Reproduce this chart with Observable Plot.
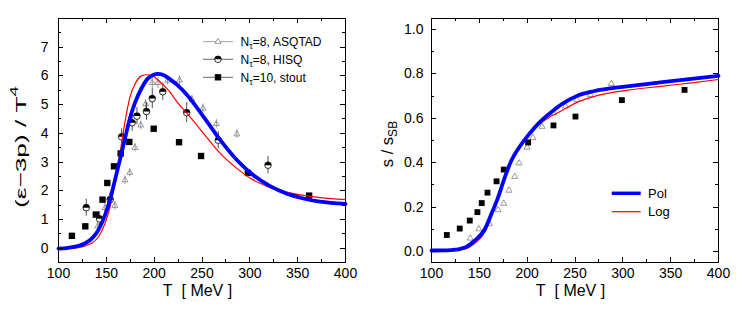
<!DOCTYPE html>
<html><head><meta charset="utf-8">
<script src="https://cdn.jsdelivr.net/npm/d3@7"></script>
<script src="https://cdn.jsdelivr.net/npm/@observablehq/plot@0.6"></script>
<style>
body{margin:0;background:#fff}
#wrap{display:flex;width:747px;height:312px;background:#fff}
</style></head><body><div id="wrap"></div>
<script>
// ---------- Left panel: (e-3p)/T^4 ----------
const stoutT = [114, 128, 139, 146, 151, 158, 165, 174, 199.5, 226, 249, 298, 362];
const stoutE = [0.43, 0.76, 1.17, 1.69, 2.27, 2.85, 3.3, 3.7, 4.16, 3.69, 3.21, 2.62, 1.83];

const hisqT = [129, 143, 154, 166, 177, 182, 192, 198, 209, 234, 267, 319];
const hisqE = [1.41, 1.02, 1.69, 3.88, 4.37, 4.6, 4.76, 5.21, 5.45, 4.72, 3.76, 2.89];
const hisqErr = [0.3, 0.25, 0.25, 0.28, 0.3, 0.3, 0.3, 0.35, 0.3, 0.35, 0.3, 0.3];

const asqT = [141, 148.5, 159, 169.5, 174.5, 180, 186, 191, 198, 204, 214, 226.5, 239.5, 251, 265, 286.5];
const asqE = [0.76, 1.4, 1.48, 2.37, 2.63, 3.5, 4.28, 5.02, 5.76, 5.76, 5.84, 5.85, 5.18, 4.87, 4.33, 3.97];
const asqErr = [0.15, 0.2, 0.15, 0.15, 0.15, 0.15, 0.15, 0.15, 0.2, 0.2, 0.15, 0.15, 0.15, 0.15, 0.15, 0.15];

const polT = [100, 110, 120, 128, 135, 141.5, 148.5, 153.7, 159, 164, 169.5, 174.6, 180, 186.8, 193.7, 204, 209, 216.7, 225, 234.2, 251.5, 269, 286.4, 303.8, 321.2, 338.7, 356, 373.5, 400];
const polE = [-0.02, 0.01, 0.07, 0.17, 0.34, 0.62, 1.14, 1.67, 2.37, 3.05, 3.82, 4.52, 5.07, 5.57, 5.92, 6.07, 6.04, 5.88, 5.66, 5.34, 4.58, 3.77, 3.07, 2.54, 2.16, 1.9, 1.73, 1.62, 1.54];

const logT = [100, 110, 120, 128, 135, 141.5, 148.5, 154, 159, 164, 169.5, 174.6, 180, 186.8, 192, 197, 204, 214.6, 225, 234.2, 251.5, 269, 286.4, 303.8, 321.2, 338.7, 356, 373.5, 400];
const logE = [-0.02, -0.01, 0.02, 0.08, 0.18, 0.38, 0.85, 1.45, 2.3, 3.25, 4.4, 5.25, 5.72, 6.0, 6.04, 6.02, 5.86, 5.51, 5.05, 4.7, 4.0, 3.3, 2.78, 2.37, 2.11, 1.94, 1.84, 1.76, 1.69];

// ---------- Right panel: s / s_SB ----------
const sStoutT = [116, 129.5, 140, 148, 152.5, 158.5, 168, 175.5, 201, 227.5, 250.5, 299, 364.5];
const sStoutV = [0.074, 0.103, 0.139, 0.177, 0.218, 0.265, 0.316, 0.369, 0.491, 0.568, 0.608, 0.682, 0.728];

const sAsqT = [140.5, 149.5, 160.5, 169.5, 175.5, 181, 187, 191.5, 200, 206, 215.5, 227.5, 240, 252, 266, 288];
const sAsqV = [0.059, 0.101, 0.124, 0.187, 0.216, 0.275, 0.337, 0.398, 0.469, 0.512, 0.563, 0.624, 0.654, 0.684, 0.707, 0.756];

const sPolT = [100, 120, 135, 145, 155.7, 162.7, 169.6, 176.6, 183.5, 190.5, 201, 211.4, 225.3, 237, 252, 269.5, 304, 339, 374, 400];
const sPolV = [0.004, 0.006, 0.018, 0.048, 0.1, 0.17, 0.244, 0.334, 0.41, 0.462, 0.523, 0.575, 0.628, 0.666, 0.701, 0.722, 0.744, 0.762, 0.779, 0.791];

const sLogT = [100, 120, 135, 145, 155.7, 162.7, 169.6, 176.6, 183.5, 190.5, 201, 211.4, 225.3, 235, 252, 269.5, 304, 339, 374, 400];
const sLogV = [0.0, 0.002, 0.011, 0.036, 0.086, 0.16, 0.247, 0.342, 0.417, 0.468, 0.525, 0.568, 0.61, 0.632, 0.672, 0.698, 0.726, 0.744, 0.761, 0.775];

// ---------- tick labels / legend text ----------
const xTicks = [100, 150, 200, 250, 300, 350, 400];
const xMinor = [125, 175, 225, 275, 325, 375];
const yTicksL = [0, 1, 2, 3, 4, 5, 6, 7];
const yMinorL = [-0.5, 0.5, 1.5, 2.5, 3.5, 4.5, 5.5, 6.5, 7.5];
const yTicksR = [0, 0.2, 0.4, 0.6, 0.8, 1.0];
const yMinorR = [0.1, 0.3, 0.5, 0.7, 0.9];
const legendL = [["N", "τ", "=8, ASQTAD"], ["N", "τ", "=8, HISQ"], ["N", "τ", "=10, stout"]];
const legendR = ["Pol", "Log"];
const xLabel = "T\u00a0\u00a0[ MeV ]";

const FONT = "Liberation Sans, Arial, Helvetica, sans-serif";
const H = 312, MT = 18, MB = 50;
const BLUE = "#0000ff", RED = "#ff0000", GRAY = "#808080";

const halfTop = {draw(ctx, size) { const r = Math.sqrt(size / Math.PI); ctx.moveTo(r, 0); ctx.arc(0, 0, r, 0, Math.PI, true); ctx.closePath(); }};
const rows = (T, V, E) => T.map((t, i) => ({T: t, v: V[i], e: E ? E[i] : 0}));

function decorate(plot, o) {
  const svg = d3.select(plot);
  const sx = plot.scale("x"), sy = plot.scale("y");
  const L = o.ml, R = o.width - o.mr, Tp = MT, B = H - MB;
  const g = svg.append("g").attr("stroke", "#000").attr("stroke-width", 1).attr("shape-rendering", "crispEdges");
  for (const [vals, len] of [[xTicks, 5], [xMinor, 3]]) for (const v of vals) {
    const x = Math.round(sx.apply(v)) + 0.5;
    g.append("line").attr("x1", x).attr("x2", x).attr("y1", B).attr("y2", B - len);
    g.append("line").attr("x1", x).attr("x2", x).attr("y1", Tp).attr("y2", Tp + len);
  }
  for (const [vals, len] of [[o.yMajor, 5], [o.yMinor, 3]]) for (const v of vals) {
    const y = Math.round(sy.apply(v)) + 0.5;
    g.append("line").attr("x1", L).attr("x2", L + len).attr("y1", y).attr("y2", y);
    g.append("line").attr("x1", R).attr("x2", R - len).attr("y1", y).attr("y2", y);
  }
  svg.append("text").attr("x", (L + R) / 2 - 4).attr("y", 296).attr("text-anchor", "middle")
    .attr("font-size", 16).attr("font-family", FONT).attr("fill", "#000").text(xLabel);
  return {svg, sx, sy};
}

// ---------- LEFT ----------
const WL = 373, MLL = 58, MRL = 28;
const left = Plot.plot({
  width: WL, height: H, marginLeft: MLL, marginRight: MRL, marginTop: MT, marginBottom: MB,
  style: {fontFamily: FONT, fontSize: "14px", background: "white", color: "#000"},
  x: {domain: [100, 400]},
  y: {domain: [-0.5, 8]},
  marks: [
    Plot.frame({stroke: "#000", strokeWidth: 1}),
    Plot.axisX({ticks: xTicks, tickSize: 0, tickPadding: 6, label: null, tickFormat: d => String(d)}),
    Plot.axisY({ticks: yTicksL, tickSize: 0, tickPadding: 10, label: null, tickFormat: d => String(d)}),
    Plot.ruleX(rows(asqT, asqE, asqErr), {x: "T", y1: d => d.v - d.e, y2: d => d.v + d.e, stroke: GRAY, strokeWidth: 0.8}),
    Plot.dot(rows(asqT, asqE), {x: "T", y: "v", symbol: "triangle", r: 2.2, stroke: GRAY, fill: "none", strokeWidth: 0.8}),
    Plot.ruleX(rows(hisqT, hisqE, hisqErr), {x: "T", y1: d => d.v - d.e, y2: d => d.v + d.e, stroke: "#222", strokeWidth: 0.8}),
    Plot.dot(rows(hisqT, hisqE), {x: "T", y: "v", r: 3.3, fill: "white", stroke: "#000", strokeWidth: 0.8}),
    Plot.dot(rows(hisqT, hisqE), {x: "T", y: "v", r: 3.3, symbol: halfTop, fill: "#000", stroke: "none"}),
    Plot.dot(rows(stoutT, stoutE), {x: "T", y: "v", symbol: "square", r: 3.6, fill: "#000", stroke: "none"}),
    Plot.line(rows(logT, logE), {x: "T", y: "v", stroke: RED, strokeWidth: 1.2, curve: "monotone-x"}),
    Plot.line(rows(polT, polE), {x: "T", y: "v", stroke: BLUE, strokeWidth: 3.8, curve: "monotone-x"})
  ]
});
{
  const {svg} = decorate(left, {width: WL, ml: MLL, mr: MRL, yMajor: yTicksL, yMinor: yMinorL});
  const yl = svg.append("text").attr("transform", "translate(26,147) rotate(-90)").attr("text-anchor", "middle")
    .attr("font-size", 15.5).attr("font-family", FONT).attr("fill", "#000")
    .attr("textLength", 122).attr("lengthAdjust", "spacingAndGlyphs");
  yl.append("tspan").text("(ε−3p) / T");
  yl.append("tspan").attr("font-size", 11).attr("dy", -8).text("4");
  const lg = svg.append("g").attr("font-family", FONT).attr("font-size", 12).attr("fill", "#000").attr("text-anchor", "start");
  const ys = [41.7, 59.3, 77.3];
  const syms = [d3.symbol(d3.symbolTriangle, Math.PI * 2.2 * 2.2)(), d3.symbol(d3.symbolCircle, Math.PI * 3.3 * 3.3)(), d3.symbol(d3.symbolSquare, Math.PI * 3.6 * 3.6)()];
  legendL.forEach((parts, i) => {
    const y = ys[i];
    lg.append("line").attr("x1", 203).attr("x2", 233).attr("y1", y).attr("y2", y).attr("stroke", i === 0 ? "#999" : "#555").attr("stroke-width", 0.9);
    if (i === 0) lg.append("path").attr("d", syms[0]).attr("transform", `translate(218,${y})`).attr("fill", "white").attr("stroke", GRAY).attr("stroke-width", 0.8);
    if (i === 1) {
      lg.append("path").attr("d", syms[1]).attr("transform", `translate(218,${y})`).attr("fill", "white").attr("stroke", "#000").attr("stroke-width", 0.8);
      const p = d3.path(); halfTop.draw(p, Math.PI * 3.3 * 3.3);
      lg.append("path").attr("d", p.toString()).attr("transform", `translate(218,${y})`).attr("fill", "#000");
    }
    if (i === 2) lg.append("path").attr("d", syms[2]).attr("transform", `translate(218,${y})`).attr("fill", "#000");
    const t = lg.append("text").attr("x", 240.5).attr("y", y + 4.3).attr("text-anchor", "start");
    t.append("tspan").text(parts[0]);
    t.append("tspan").attr("font-size", 9).attr("dy", 3).text(parts[1]);
    t.append("tspan").attr("dy", -3).text(parts[2]);
  });
}

// ---------- RIGHT ----------
const WR = 374, MLR = 58, MRR = 29;
const right = Plot.plot({
  width: WR, height: H, marginLeft: MLR, marginRight: MRR, marginTop: MT, marginBottom: MB,
  style: {fontFamily: FONT, fontSize: "14px", background: "white", color: "#000"},
  x: {domain: [100, 400]},
  y: {domain: [-0.05, 1.05]},
  marks: [
    Plot.frame({stroke: "#000", strokeWidth: 1}),
    Plot.axisX({ticks: xTicks, tickSize: 0, tickPadding: 6, label: null, tickFormat: d => String(d)}),
    Plot.axisY({ticks: yTicksR, tickSize: 0, tickPadding: 8, label: null, tickFormat: d3.format(".1f")}),
    Plot.dot(rows(sAsqT, sAsqV), {x: "T", y: "v", symbol: "triangle", r: 2.3, stroke: GRAY, fill: "none", strokeWidth: 0.8}),
    Plot.dot(rows(sStoutT, sStoutV), {x: "T", y: "v", symbol: "square", r: 3.3, fill: "#000", stroke: "none"}),
    Plot.line(rows(sLogT, sLogV), {x: "T", y: "v", stroke: RED, strokeWidth: 1.2, curve: "monotone-x"}),
    Plot.line(rows(sPolT, sPolV), {x: "T", y: "v", stroke: BLUE, strokeWidth: 3.8, curve: "monotone-x"})
  ]
});
{
  const {svg} = decorate(right, {width: WR, ml: MLR, mr: MRR, yMajor: yTicksR, yMinor: yMinorR});
  const yl = svg.append("text").attr("transform", "translate(20,144) rotate(-90)").attr("text-anchor", "middle")
    .attr("font-size", 16.5).attr("font-family", FONT).attr("fill", "#000");
  yl.append("tspan").text("s / s");
  yl.append("tspan").attr("font-size", 12).attr("dy", 4).text("SB");
  const lg = svg.append("g").attr("font-family", FONT).attr("font-size", 13).attr("fill", "#000").attr("text-anchor", "start");
  const ys = [193.3, 211.7];
  legendR.forEach((name, i) => {
    const y = ys[i];
    lg.append("line").attr("x1", 611.7 - 373).attr("x2", 640.7 - 373).attr("y1", y).attr("y2", y)
      .attr("stroke", i === 0 ? BLUE : RED).attr("stroke-width", i === 0 ? 3.5 : 1.2);
    lg.append("text").attr("x", 648 - 373).attr("y", y + 4.6).attr("text-anchor", "start").text(name);
  });
}

document.getElementById("wrap").append(left, right);
</script>
</body></html>
